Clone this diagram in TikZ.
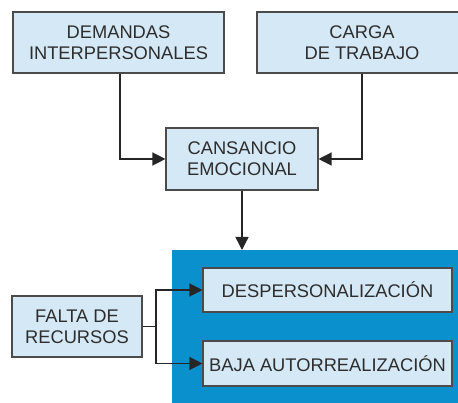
\documentclass[tikz,border=0pt]{standalone}
\usepackage{fontspec}
\setmainfont{Liberation Sans}
\usetikzlibrary{arrows.meta}
\definecolor{cajaazul}{RGB}{212,232,245}
\definecolor{fondoazul}{RGB}{10,145,205}
\definecolor{borde}{RGB}{75,75,75}
\definecolor{texto}{RGB}{45,45,45}
\begin{document}
\begin{tikzpicture}[x=1pt, y=-1pt,
  caja/.style={draw=borde, line width=1.1pt, fill=cajaazul, align=center, text=texto,
    font=\fontsize{18.3}{21}\selectfont, inner sep=0pt},
  flecha/.style={line width=1.3pt, black!85, -{Triangle[length=13pt,width=13pt]}}]
\useasboundingbox (0,0) rectangle (458,403);
\clip (0,0) rectangle (458,403);
\fill[white](0,0) rectangle (458,403);
% fondo azul
\node[fill=fondoazul, minimum width=300pt, minimum height=170pt, inner sep=0pt, anchor=north west](fondo) at (172,250){};
% cajas
\node[caja, minimum width=211pt, minimum height=61pt](demandas) at (118.5,42.5){DEMANDAS\\INTERPERSONALES};
\node[caja, minimum width=210pt, minimum height=61pt](carga) at (362,42.5){CARGA\\DE TRABAJO};
\node[caja, minimum width=152pt, minimum height=62pt](cansancio) at (242,159){CANSANCIO\\EMOCIONAL};
\node[caja, minimum width=249pt, minimum height=44pt](desp) at (327.5,290){DESPERSONALIZACIÓN};
\node[caja, minimum width=249pt, minimum height=45pt](baja) at (327.5,363.5){BAJA AUTORREALIZACIÓN};
\node[caja, minimum width=130pt, minimum height=61pt](falta) at (77,326.5){FALTA DE\\RECURSOS};
\coordinate (rama) at (156,326.5);
% flechas
\draw[flecha](demandas.south -| 120,0) |- (cansancio.west);
\draw[flecha](carga.south -| 362,0) |- (cansancio.east);
\draw[flecha](cansancio.south) -- (cansancio.south |- fondo.north);
\draw[line width=1.3pt, black!85](falta.east) -- (rama);
\draw[flecha](rama) |- (desp.west);
\draw[flecha](rama) |- (baja.west);
\end{tikzpicture}
\end{document}
